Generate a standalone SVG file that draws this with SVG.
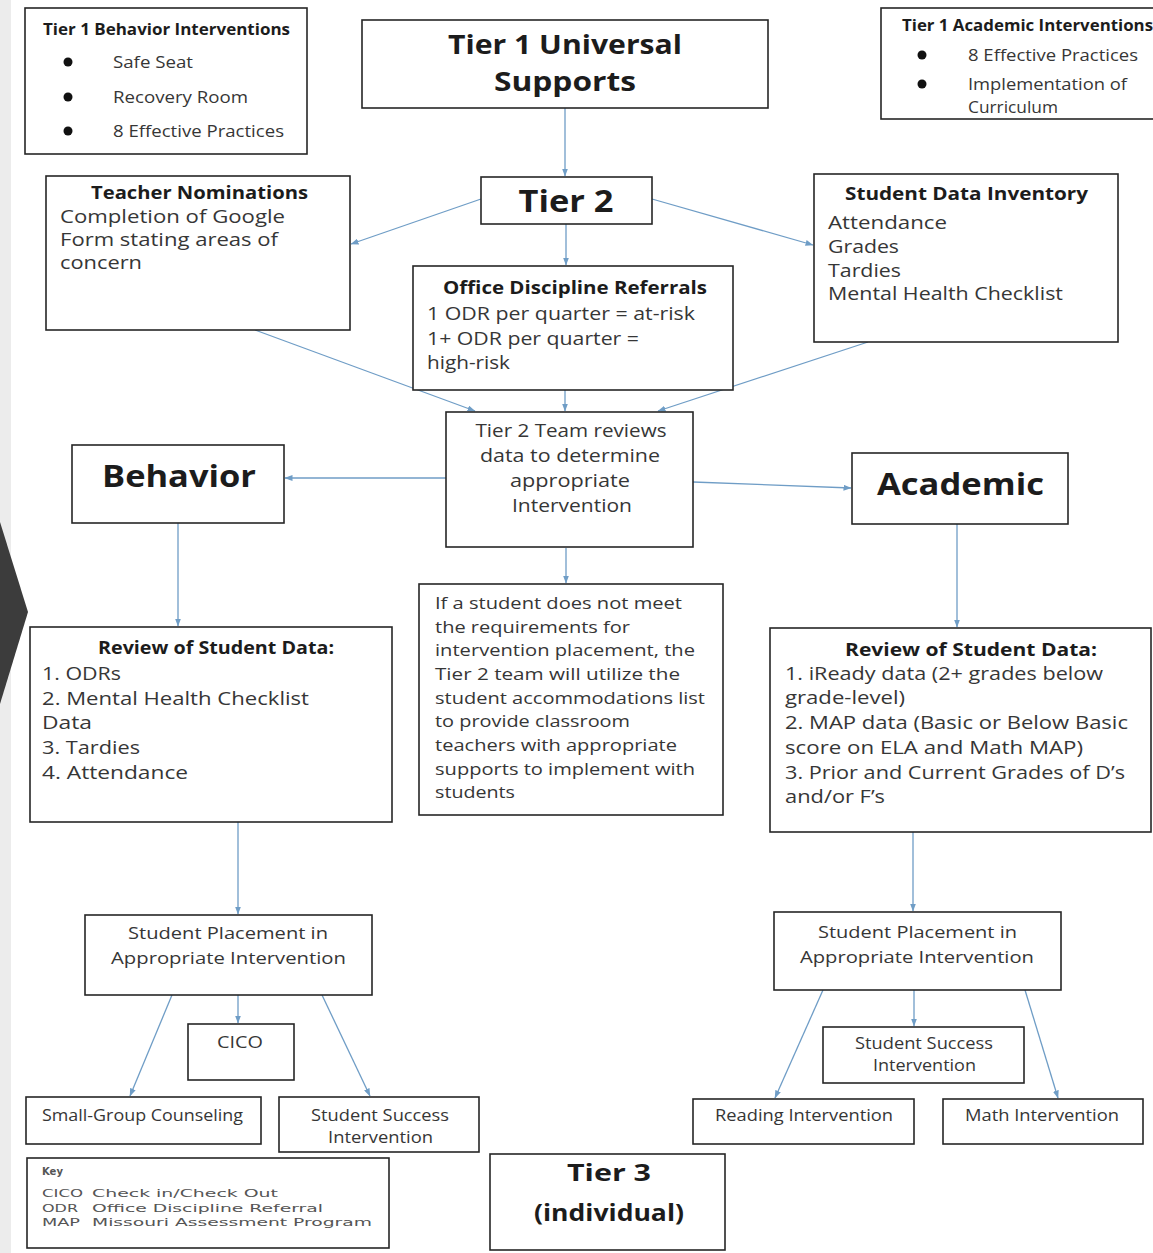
<svg xmlns="http://www.w3.org/2000/svg" width="1153" height="1253" viewBox="0 0 1153 1253">
<defs>
<style>
.box{fill:#fff;stroke:#262626;stroke-width:1.6}
.t{font-family:"Open Sans","Liberation Sans",sans-serif;fill:#363636}
.b{font-weight:bold;fill:#1c1c1c}
.c{text-anchor:middle}
.k{font-family:"DejaVu Sans","Liberation Sans",sans-serif;fill:#555;font-size:11px}
.edge{stroke:#6f9dc6;stroke-width:1.3;fill:none;marker-end:url(#ah)}
.dot{fill:#111}
</style>
<marker id="ah" markerUnits="userSpaceOnUse" markerWidth="8" markerHeight="6" refX="7.5" refY="3" orient="auto">
<path d="M0,0 L8,3 L0,6 z" fill="#6f9dc6"/>
</marker>
</defs>
<rect x="0" y="0" width="1153" height="1253" fill="#fff"/>
<rect x="0" y="0" width="11" height="1253" fill="#ececec"/>
<polygon points="0,522 28,612 0,704" fill="#3c3c3c"/>

<g id="connectors">
<path class="edge" d="M565,108 L565,176"/>
<path class="edge" d="M481,199 L351,244"/>
<path class="edge" d="M652,199 L813,245"/>
<path class="edge" d="M566,224 L566,265"/>
<path class="edge" d="M255,330 L475,411"/>
<path class="edge" d="M565,390 L565,411"/>
<path class="edge" d="M868,342 L658,411"/>
<path class="edge" d="M446,478 L285,478"/>
<path class="edge" d="M693,482 L851,488"/>
<path class="edge" d="M566,548 L566,583"/>
<path class="edge" d="M178,523 L178,626"/>
<path class="edge" d="M957,524 L957,627"/>
<path class="edge" d="M238,822 L238,914"/>
<path class="edge" d="M913,832 L913,911"/>
<path class="edge" d="M172,995 L130,1096"/>
<path class="edge" d="M238,995 L238,1023"/>
<path class="edge" d="M322,995 L370,1096"/>
<path class="edge" d="M823,990 L775,1098"/>
<path class="edge" d="M914,990 L914,1026"/>
<path class="edge" d="M1025,990 L1058,1098"/>
</g>

<g id="tier1-behavior">
<rect class="box" x="25" y="8" width="282" height="146"/>
<text class="t b" x="43" y="35" font-size="16.5" textLength="247" lengthAdjust="spacingAndGlyphs">Tier 1 Behavior Interventions</text>
<circle class="dot" cx="68" cy="62" r="4.5"/>
<circle class="dot" cx="68" cy="97" r="4.5"/>
<circle class="dot" cx="68" cy="131" r="4.5"/>
<text class="t" x="113" y="68" font-size="17" textLength="80" lengthAdjust="spacingAndGlyphs">Safe Seat</text>
<text class="t" x="113" y="103" font-size="17" textLength="135" lengthAdjust="spacingAndGlyphs">Recovery Room</text>
<text class="t" x="113" y="137" font-size="17" textLength="171" lengthAdjust="spacingAndGlyphs">8 Effective Practices</text>
</g>

<g id="tier1-universal">
<rect class="box" x="362" y="20" width="406" height="88"/>
<text class="t b c" x="565" y="54" font-size="27" textLength="234" lengthAdjust="spacingAndGlyphs">Tier 1 Universal</text>
<text class="t b c" x="565" y="91" font-size="27" textLength="142" lengthAdjust="spacingAndGlyphs">Supports</text>
</g>

<g id="tier1-academic">
<rect class="box" x="881" y="8" width="300" height="111"/>
<text class="t b" x="902" y="31" font-size="15.5" textLength="251" lengthAdjust="spacingAndGlyphs">Tier 1 Academic Interventions</text>
<circle class="dot" cx="922" cy="55" r="4.5"/>
<circle class="dot" cx="922" cy="84" r="4.5"/>
<text class="t" x="968" y="61" font-size="16.5" textLength="170" lengthAdjust="spacingAndGlyphs">8 Effective Practices</text>
<text class="t" x="968" y="90" font-size="16.5" textLength="159" lengthAdjust="spacingAndGlyphs">Implementation of</text>
<text class="t" x="968" y="113" font-size="16" textLength="90" lengthAdjust="spacingAndGlyphs">Curriculum</text>
</g>

<g id="tier2">
<rect class="box" x="481" y="177" width="171" height="47"/>
<text class="t b c" x="566" y="212" font-size="30" textLength="95" lengthAdjust="spacingAndGlyphs">Tier 2</text>
</g>

<g id="teacher-nominations">
<rect class="box" x="46" y="176" width="304" height="154"/>
<text class="t b c" x="199.5" y="199" font-size="18" textLength="217" lengthAdjust="spacingAndGlyphs">Teacher Nominations</text>
<text class="t" x="60" y="223" font-size="18" textLength="225" lengthAdjust="spacingAndGlyphs">Completion of Google</text>
<text class="t" x="60" y="246" font-size="18" textLength="218" lengthAdjust="spacingAndGlyphs">Form stating areas of</text>
<text class="t" x="60" y="269" font-size="18" textLength="82" lengthAdjust="spacingAndGlyphs">concern</text>
</g>

<g id="student-data-inventory">
<rect class="box" x="814" y="174" width="304" height="168"/>
<text class="t b c" x="966.5" y="200" font-size="18.5" textLength="243" lengthAdjust="spacingAndGlyphs">Student Data Inventory</text>
<text class="t" x="828" y="229" font-size="18" textLength="119" lengthAdjust="spacingAndGlyphs">Attendance</text>
<text class="t" x="828" y="253" font-size="18" textLength="71" lengthAdjust="spacingAndGlyphs">Grades</text>
<text class="t" x="828" y="277" font-size="18" textLength="73" lengthAdjust="spacingAndGlyphs">Tardies</text>
<text class="t" x="828" y="300" font-size="18" textLength="235" lengthAdjust="spacingAndGlyphs">Mental Health Checklist</text>
</g>

<g id="office-discipline-referrals">
<rect class="box" x="413" y="266" width="320" height="124"/>
<text class="t b c" x="575" y="294" font-size="18.5" textLength="264" lengthAdjust="spacingAndGlyphs">Office Discipline Referrals</text>
<text class="t" x="427" y="320" font-size="18.5" textLength="268" lengthAdjust="spacingAndGlyphs">1 ODR per quarter = at-risk</text>
<text class="t" x="427" y="345" font-size="18.5" textLength="212" lengthAdjust="spacingAndGlyphs">1+ ODR per quarter =</text>
<text class="t" x="427" y="369" font-size="18.5" textLength="83" lengthAdjust="spacingAndGlyphs">high-risk</text>
</g>

<g id="tier2-team">
<rect class="box" x="446" y="412" width="247" height="135"/>
<text class="t c" x="571" y="437" font-size="18.5" textLength="191" lengthAdjust="spacingAndGlyphs">Tier 2 Team reviews</text>
<text class="t c" x="570" y="462" font-size="18.5" textLength="180" lengthAdjust="spacingAndGlyphs">data to determine</text>
<text class="t c" x="570" y="487" font-size="18.5" textLength="120" lengthAdjust="spacingAndGlyphs">appropriate</text>
<text class="t c" x="572" y="512" font-size="18.5" textLength="120" lengthAdjust="spacingAndGlyphs">Intervention</text>
</g>

<g id="behavior">
<rect class="box" x="72" y="445" width="212" height="78"/>
<text class="t b c" x="179" y="487" font-size="30" textLength="154" lengthAdjust="spacingAndGlyphs">Behavior</text>
</g>

<g id="academic">
<rect class="box" x="852" y="453" width="216" height="71"/>
<text class="t b c" x="960.5" y="495" font-size="31" textLength="167" lengthAdjust="spacingAndGlyphs">Academic</text>
</g>

<g id="accommodations">
<rect class="box" x="419" y="584" width="304" height="231"/>
<text class="t" x="435" y="609" font-size="17" textLength="247" lengthAdjust="spacingAndGlyphs">If a student does not meet</text>
<text class="t" x="435" y="633" font-size="17" textLength="195" lengthAdjust="spacingAndGlyphs">the requirements for</text>
<text class="t" x="435" y="656" font-size="17" textLength="260" lengthAdjust="spacingAndGlyphs">intervention placement, the</text>
<text class="t" x="435" y="680" font-size="17" textLength="245" lengthAdjust="spacingAndGlyphs">Tier 2 team will utilize the</text>
<text class="t" x="435" y="704" font-size="17" textLength="270" lengthAdjust="spacingAndGlyphs">student accommodations list</text>
<text class="t" x="435" y="727" font-size="17" textLength="195" lengthAdjust="spacingAndGlyphs">to provide classroom</text>
<text class="t" x="435" y="751" font-size="17" textLength="242" lengthAdjust="spacingAndGlyphs">teachers with appropriate</text>
<text class="t" x="435" y="775" font-size="17" textLength="260" lengthAdjust="spacingAndGlyphs">supports to implement with</text>
<text class="t" x="435" y="798" font-size="17" textLength="80" lengthAdjust="spacingAndGlyphs">students</text>
</g>

<g id="review-behavior">
<rect class="box" x="30" y="627" width="362" height="195"/>
<text class="t b c" x="216" y="654" font-size="18.5" textLength="236" lengthAdjust="spacingAndGlyphs">Review of Student Data:</text>
<text class="t" x="42" y="680" font-size="18.5" textLength="79" lengthAdjust="spacingAndGlyphs">1. ODRs</text>
<text class="t" x="42" y="705" font-size="18.5" textLength="267" lengthAdjust="spacingAndGlyphs">2. Mental Health Checklist</text>
<text class="t" x="42" y="729" font-size="18.5" textLength="50" lengthAdjust="spacingAndGlyphs">Data</text>
<text class="t" x="42" y="754" font-size="18.5" textLength="98" lengthAdjust="spacingAndGlyphs">3. Tardies</text>
<text class="t" x="42" y="779" font-size="18.5" textLength="146" lengthAdjust="spacingAndGlyphs">4. Attendance</text>
</g>

<g id="review-academic">
<rect class="box" x="770" y="628" width="381" height="204"/>
<text class="t b c" x="971" y="656" font-size="18.5" textLength="252" lengthAdjust="spacingAndGlyphs">Review of Student Data:</text>
<text class="t" x="785" y="680" font-size="18.5" textLength="318" lengthAdjust="spacingAndGlyphs">1. iReady data (2+ grades below</text>
<text class="t" x="785" y="704" font-size="18.5" textLength="120" lengthAdjust="spacingAndGlyphs">grade-level)</text>
<text class="t" x="785" y="729" font-size="18.5" textLength="343" lengthAdjust="spacingAndGlyphs">2. MAP data (Basic or Below Basic</text>
<text class="t" x="785" y="754" font-size="18.5" textLength="298" lengthAdjust="spacingAndGlyphs">score on ELA and Math MAP)</text>
<text class="t" x="785" y="779" font-size="18.5" textLength="340" lengthAdjust="spacingAndGlyphs">3. Prior and Current Grades of D’s</text>
<text class="t" x="785" y="803" font-size="18.5" textLength="100" lengthAdjust="spacingAndGlyphs">and/or F’s</text>
</g>

<g id="placement-behavior">
<rect class="box" x="85" y="915" width="287" height="80"/>
<text class="t c" x="228" y="939" font-size="17" textLength="200" lengthAdjust="spacingAndGlyphs">Student Placement in</text>
<text class="t c" x="228.5" y="964" font-size="17" textLength="235" lengthAdjust="spacingAndGlyphs">Appropriate Intervention</text>
</g>

<g id="cico">
<rect class="box" x="188" y="1024" width="106" height="56"/>
<text class="t c" x="240" y="1048" font-size="16" textLength="46" lengthAdjust="spacingAndGlyphs">CICO</text>
</g>

<g id="small-group-counseling">
<rect class="box" x="26" y="1097" width="235" height="47"/>
<text class="t c" x="142.5" y="1121" font-size="16.5" textLength="201" lengthAdjust="spacingAndGlyphs">Small-Group Counseling</text>
</g>

<g id="ssi-behavior">
<rect class="box" x="279" y="1097" width="200" height="55"/>
<text class="t c" x="380" y="1121" font-size="16.5" textLength="138" lengthAdjust="spacingAndGlyphs">Student Success</text>
<text class="t c" x="380.5" y="1143" font-size="16.5" textLength="105" lengthAdjust="spacingAndGlyphs">Intervention</text>
</g>

<g id="key">
<rect class="box" x="27" y="1158" width="362" height="90"/>
<text class="k" x="42" y="1175" font-weight="bold" fill="#333" textLength="21" lengthAdjust="spacingAndGlyphs">Key</text>
<text class="k" x="42" y="1197" textLength="41" lengthAdjust="spacingAndGlyphs">CICO</text>
<text class="k" x="92" y="1197" textLength="186" lengthAdjust="spacingAndGlyphs">Check in/Check Out</text>
<text class="k" x="42" y="1212" textLength="36" lengthAdjust="spacingAndGlyphs">ODR</text>
<text class="k" x="92" y="1212" textLength="231" lengthAdjust="spacingAndGlyphs">Office Discipline Referral</text>
<text class="k" x="42" y="1226" textLength="38" lengthAdjust="spacingAndGlyphs">MAP</text>
<text class="k" x="92" y="1226" textLength="280" lengthAdjust="spacingAndGlyphs">Missouri Assessment Program</text>
</g>

<g id="tier3">
<rect class="box" x="490" y="1154" width="235" height="96"/>
<text class="t b c" x="609" y="1181" font-size="24" textLength="84" lengthAdjust="spacingAndGlyphs">Tier 3</text>
<text class="t b c" x="609" y="1221" font-size="24" textLength="150" lengthAdjust="spacingAndGlyphs">(individual)</text>
</g>

<g id="placement-academic">
<rect class="box" x="774" y="912" width="287" height="78"/>
<text class="t c" x="917.5" y="938" font-size="17" textLength="199" lengthAdjust="spacingAndGlyphs">Student Placement in</text>
<text class="t c" x="917" y="963" font-size="17" textLength="234" lengthAdjust="spacingAndGlyphs">Appropriate Intervention</text>
</g>

<g id="ssi-academic">
<rect class="box" x="823" y="1027" width="201" height="56"/>
<text class="t c" x="924" y="1049" font-size="16" textLength="138" lengthAdjust="spacingAndGlyphs">Student Success</text>
<text class="t c" x="924.5" y="1071" font-size="16" textLength="103" lengthAdjust="spacingAndGlyphs">Intervention</text>
</g>

<g id="reading-intervention">
<rect class="box" x="693" y="1099" width="221" height="45"/>
<text class="t c" x="804" y="1121" font-size="16.5" textLength="178" lengthAdjust="spacingAndGlyphs">Reading Intervention</text>
</g>

<g id="math-intervention">
<rect class="box" x="943" y="1099" width="200" height="45"/>
<text class="t c" x="1042" y="1121" font-size="16.5" textLength="154" lengthAdjust="spacingAndGlyphs">Math Intervention</text>
</g>
</svg>
